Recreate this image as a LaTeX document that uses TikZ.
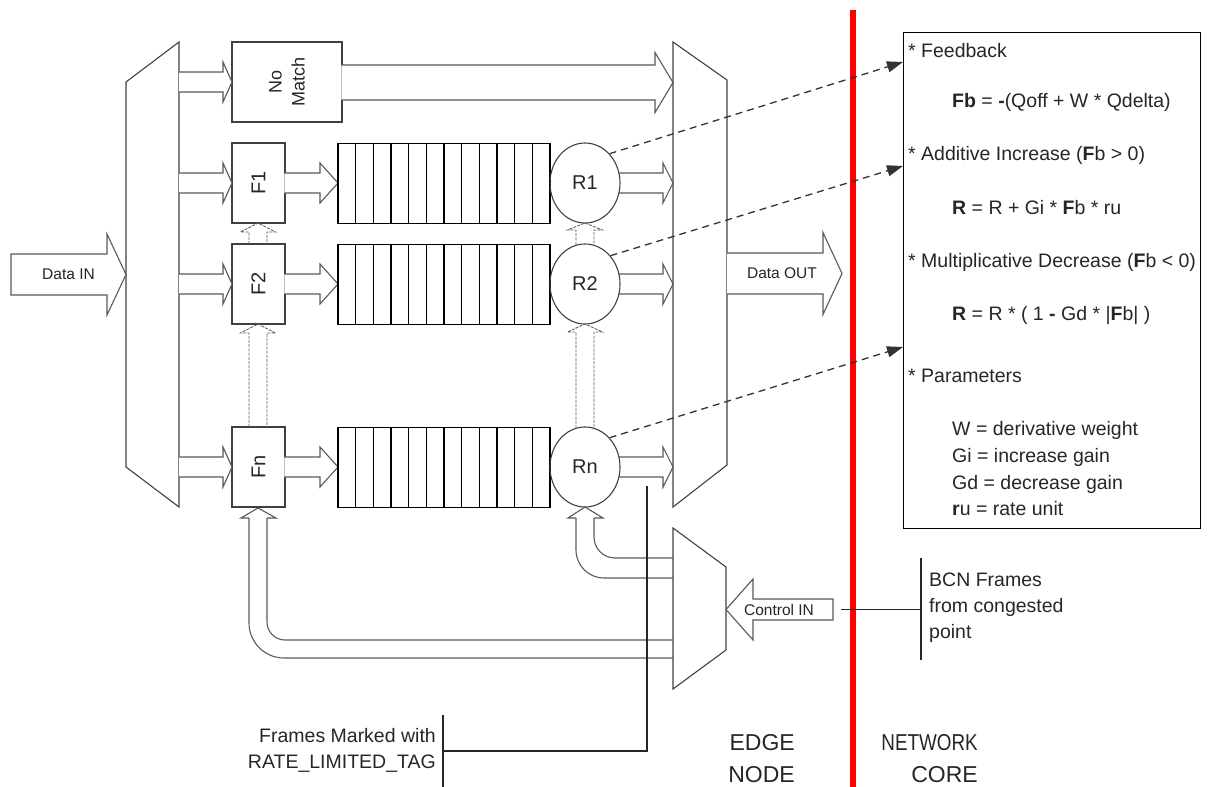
\documentclass[tikz,border=0pt]{standalone}
\usepackage{fontspec}
\usepackage{graphicx}
\setmainfont{Liberation Sans}
\usetikzlibrary{arrows.meta,calc,shapes.geometric}
% horizontal block arrow: [style]{x tail}{x tip}{y centre}{half body}{half head}{head length}
\newcommand\harrow[7][blk]{\path[#1] (#2,#4-#5) -- (#3-#7,#4-#5) -- (#3-#7,#4-#6) -- (#3,#4) -- (#3-#7,#4+#6) -- (#3-#7,#4+#5) -- (#2,#4+#5);}
\newcommand\harrowc[7][blk]{\path[#1] (#2,#4-#5) -- (#3-#7,#4-#5) -- (#3-#7,#4-#6) -- (#3,#4) -- (#3-#7,#4+#6) -- (#3-#7,#4+#5) -- (#2,#4+#5) -- cycle;}
% upward block arrow: [style]{x centre}{y bottom}{y tip}{half body}{half head}{head length}
\newcommand\uarrow[7][dsh]{\path[#1] (#2-#5,#3) -- (#2-#5,#4+#7) -- (#2-#6,#4+#7) -- (#2,#4) -- (#2+#6,#4+#7) -- (#2+#5,#4+#7) -- (#2+#5,#3);}
\begin{document}
\begin{tikzpicture}[x=1pt,y=-1pt,
  ln/.style={draw=black!75, line width=1.1pt, line join=miter},
  blk/.style={draw=black!65, line width=1.1pt, fill=white},
  blkn/.style={draw=black!65, line width=1.1pt},
  dsh/.style={draw=black!62, line width=0.9pt, dash pattern=on 3pt off 1.2pt},
  fbk/.style={draw=black!80, line width=1.3pt, dash pattern=on 7pt off 5pt, -{Triangle[length=16pt,width=11pt]}},
  fbox/.style={draw=black!75, line width=1.1pt, minimum width=53pt, minimum height=80pt, inner sep=0pt},
  queue/.style={draw=black, line width=1.2pt, minimum width=212pt, minimum height=80pt, inner sep=0pt},
  rate/.style={ellipse, draw=black!75, line width=1.1pt, minimum width=70pt, minimum height=80pt, inner sep=0pt, font=\fontsize{20}{24}\selectfont, text=black!85},
  lbl/.style={font=\fontsize{20}{24}\selectfont, text=black!85, inner sep=0pt},
  sm/.style={font=\fontsize{15.5}{18}\selectfont, text=black!85, inner sep=0pt},
  bx/.style={font=\fontsize{19.5}{23}\selectfont, text=black!85, inner sep=0pt, anchor=base west},
  note/.style={font=\fontsize{19.5}{26}\selectfont, text=black!85, inner sep=0pt},
  big/.style={font=\fontsize{23}{32}\selectfont, text=black!85, inner sep=0pt, align=right, anchor=east},
  thin/.style={draw=black!85, line width=1.1pt},
]
\useasboundingbox (0,0) rectangle (1210,787);

% core boundary
\draw[red, line width=6pt] (853,10) -- (853,787);

% multiplexers
\draw[ln] (126,82) -- (179,42) -- (179,507) -- (126,467) -- cycle;
\draw[ln] (673,42) -- (727,80) -- (727,465) -- (673,507) -- cycle;
\draw[ln] (673,528) -- (726,567) -- (726,650) -- (673,689) -- cycle;

% Data IN / Data OUT / Control IN
\harrowc{11}{126}{274.5}{20.5}{40.5}{19}
\node[sm] (din) at (68.5,274.5) {Data IN};
\harrow{727}{842}{273.5}{20.5}{41}{19}
\node[sm] (dout) at (782,273.5) {Data OUT};
\harrowc{833}{726}{609.5}{10.5}{30.5}{-27}
\node[sm] (cin) at (779,609.5) {Control IN};

% No Match
\node[fbox, minimum width=110pt] (NM) at (287,82) {};
\node[lbl, rotate=90, align=center, font=\fontsize{18}{23}\selectfont] at (NM) {No\\Match};
\harrow{179}{232}{82}{10}{20}{9}
\harrow{341.4}{673}{82.5}{17.5}{30}{18}

% filters, queues, rate limiters
\foreach \n/\y in {1/183,2/284,n/467}{
  \node[fbox] (F\n) at (258.5,\y) {};
  \node[lbl, rotate=90] at (F\n) {F\n};
  \harrow{179}{232}{\y}{10}{20}{9}
  \harrow{284.4}{338}{\y}{10}{20}{18}
  \node[queue] (Q\n) at (444,\y+0.5) {};
  \foreach \i in {1,...,11}
    \draw[black, line width=1.2pt] (338+\i*17.667,\y-39.5) -- (338+\i*17.667,\y+40.5);
  \node[rate] (R\n) at (585,\y) {R\n};
  \harrow[blkn]{619}{673}{\y}{10}{20}{10}
}

% dashed up-arrows between filters and between rate limiters
\uarrow{258}{244}{223}{9}{17.5}{9}
\uarrow{258}{427}{324}{9}{17.5}{9}
\uarrow{585}{244.5}{223}{9}{17.5}{7}
\uarrow{585}{428}{324}{9}{17.5}{8}

% control loop to Fn
\draw[blkn] (249,518) -- (241,518) -- (258,508) -- (276,518) -- (267,518);
\draw[blkn, rounded corners=18pt] (267,518) -- (267,640) -- (673,640);
\draw[blkn, rounded corners=35pt] (249,518) -- (249,658) -- (673,658);
% control loop to Rn
\draw[blkn] (576,518) -- (568,518) -- (585,507) -- (603,518) -- (594,518);
\draw[blkn, rounded corners=21pt] (594,518) -- (594,558) -- (673,558);
\draw[blkn, rounded corners=28pt] (576,518) -- (576,578) -- (673,578);

% equations box
\node[draw=black, line width=1.3pt, minimum width=297pt, minimum height=496pt, anchor=north west, inner sep=0pt] (box) at (903,32) {};
\coordinate (t1) at ($(box.north west)+(0,30)$);
\coordinate (t2) at ($(box.north west)+(0,134)$);
\coordinate (t3) at ($(box.north west)+(0,315)$);
\draw[fbk] (R1.50) -- (t1);
\draw[fbk] (R2.48) -- (t2);
\draw[fbk] (Rn.50) -- (t3);

\node[bx] at (908,57) {* Feedback};
\node[bx] at (952,107) {\textbf{Fb} = \textbf{-}(Qoff + W * Qdelta)};
\node[bx] at (908,160) {* Additive Increase (\textbf{F}b > 0)};
\node[bx] at (952,214) {\textbf{R} = R + Gi * \textbf{F}b * ru};
\node[bx] at (908,267) {* Multiplicative Decrease (\textbf{F}b < 0)};
\node[bx] at (952,320) {\textbf{R} = R * ( 1 \textbf{-} Gd * |\textbf{F}b| )};
\node[bx] at (908,382) {* Parameters};
\node[bx] at (952,435) {W = derivative weight};
\node[bx] at (952,462) {Gi = increase gain};
\node[bx] at (952,489) {Gd = decrease gain};
\node[bx] at (952,515) {\textbf{r}u = rate unit};

% BCN frames annotation
\draw[thin] (921,558) -- (921,660);
\coordinate (bcnbar) at (921,609.5);
\draw[thin] (841,609.5) -- (bcnbar);
\node[note, align=left, anchor=west] (bcn) at (929,608) {BCN Frames\\from congested\\point};

% frames marked annotation
\draw[thin] (443,715) -- (443,787);
\coordinate (tagbar) at (443,751);
\draw[thin] (tagbar) -- (647,751) -- (647,486);
\node[note, align=right, anchor=east] (tag) at (436,750) {Frames Marked with\\RATE\_LIMITED\_TAG};

% region labels
\node[big] (edge) at (795,759) {EDGE\\NODE};
\node[big] (core) at (978,759) {\scalebox{0.82}[1]{NETWORK}\\CORE};
\end{tikzpicture}
\end{document}
